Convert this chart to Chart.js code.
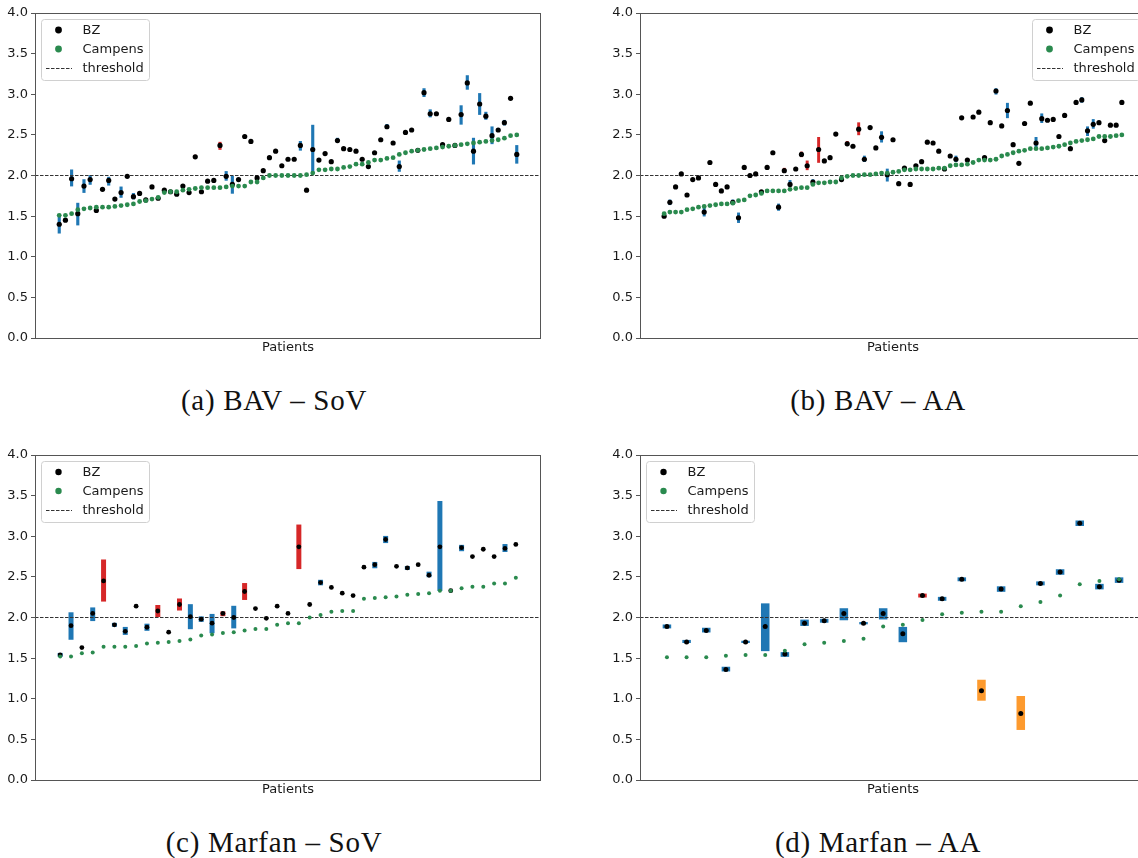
<!DOCTYPE html>
<html>
<head>
<meta charset="utf-8">
<script src="https://cdn.jsdelivr.net/npm/chart.js@4.4.1/dist/chart.umd.min.js"></script>
<style>
  html, body { margin: 0; padding: 0; background: #fff; }
  body { width: 1138px; height: 858px; overflow: hidden; position: relative; }
  canvas { position: absolute; }
  .caption { position: absolute; width: 400px; text-align: center; font-family: 'Liberation Serif', serif; font-size: 29px; letter-spacing: 0.7px; line-height: 30px; color: #111; }
</style>
</head>
<body>
<canvas id="bavSov" width="560" height="360" style="left:0;top:0"></canvas>
<canvas id="bavAa" width="560" height="360" style="left:605px;top:0"></canvas>
<canvas id="marfanSov" width="560" height="360" style="left:0;top:442px"></canvas>
<canvas id="marfanAa" width="560" height="360" style="left:605px;top:442px"></canvas>
<div class="caption" style="left:74px;top:385px">(a) BAV – SoV</div>
<div class="caption" style="left:678px;top:385px">(b) BAV – AA</div>
<div class="caption" style="left:74px;top:827px">(c) Marfan – SoV</div>
<div class="caption" style="left:678px;top:827px">(d) Marfan – AA</div>
<script>
// shared
const threshold = 2.0;
const yTicks = [0.0, 0.5, 1.0, 1.5, 2.0, 2.5, 3.0, 3.5, 4.0];
const legendLabels = ['BZ', 'Campens', 'threshold'];

// (a) BAV - SoV
const bavSovBZ = [1.40, 1.45, 1.96, 1.53, 1.87, 1.95, 1.57, 1.83, 1.94, 1.71,
  1.79, 1.99, 1.74, 1.78, 1.70, 1.86, 1.72, 1.82, 1.80, 1.77,
  1.87, 1.79, 2.23, 1.80, 1.93, 1.94, 2.37, 1.99, 1.89, 1.95,
  2.48, 2.42, 1.97, 2.06, 2.22, 2.30, 2.12, 2.20, 2.20, 2.37,
  1.82, 2.32, 2.19, 2.27, 2.17, 2.43, 2.33, 2.32, 2.30, 2.20,
  2.11, 2.28, 2.44, 2.60, 2.40, 2.11, 2.53, 2.56, 2.31, 3.02,
  2.76, 2.76, 2.38, 2.69, 2.37, 2.75, 3.14, 2.30, 2.88, 2.73,
  2.49, 2.56, 2.65, 2.95, 2.26];
const bavSovCampens = [1.51, 1.51, 1.53, 1.58, 1.59, 1.60, 1.61, 1.61, 1.61, 1.62,
  1.63, 1.64, 1.65, 1.68, 1.69, 1.71, 1.73, 1.79, 1.80, 1.80,
  1.82, 1.83, 1.84, 1.85, 1.85, 1.85, 1.85, 1.86, 1.87, 1.87,
  1.87, 1.92, 1.92, 1.97, 2.00, 2.00, 2.00, 2.00, 2.00, 2.00,
  2.01, 2.03, 2.07, 2.07, 2.08, 2.08, 2.10, 2.11, 2.14, 2.14,
  2.16, 2.19, 2.19, 2.21, 2.22, 2.26, 2.28, 2.30, 2.31, 2.32,
  2.33, 2.34, 2.35, 2.36, 2.37, 2.38, 2.39, 2.40, 2.41, 2.42,
  2.43, 2.44, 2.46, 2.49, 2.50];
// [patient, low, high, kind]
const bavSovErr = [[0, 1.29, 1.52, 'b'], [2, 1.87, 2.07, 'b'], [3, 1.39, 1.66, 'b'], [4, 1.79, 1.95, 'b'],
  [5, 1.89, 2.00, 'b'], [8, 1.88, 1.98, 'b'], [10, 1.73, 1.86, 'b'], [12, 1.71, 1.78, 'b'],
  [22, 2.21, 2.25, 'r'], [26, 2.32, 2.41, 'r'], [27, 1.94, 2.05, 'b'], [28, 1.78, 1.99, 'b'],
  [39, 2.31, 2.42, 'b'], [40, 1.80, 1.84, 'o'], [41, 2.03, 2.62, 'b'], [45, 2.41, 2.46, 'b'],
  [53, 2.58, 2.63, 'b'], [55, 2.05, 2.18, 'b'], [59, 2.97, 3.07, 'b'], [60, 2.72, 2.81, 'b'],
  [65, 2.63, 2.86, 'b'], [66, 3.06, 3.23, 'b'], [67, 2.14, 2.46, 'b'], [68, 2.75, 3.01, 'b'],
  [69, 2.69, 2.78, 'b'], [70, 2.39, 2.60, 'b'], [72, 2.62, 2.68, 'b'], [74, 2.15, 2.37, 'b']];

// (b) BAV - AA
const bavAaBZ = [1.50, 1.67, 1.86, 2.02, 1.76, 1.95, 1.97, 1.55, 2.16, 1.89,
  1.81, 1.86, 1.67, 1.48, 2.10, 2.00, 2.02, 1.80, 2.10, 2.28,
  1.61, 2.06, 1.89, 2.08, 2.26, 2.12, 1.92, 2.32, 2.18, 2.22,
  2.51, 1.95, 2.39, 2.36, 2.57, 2.20, 2.59, 2.34, 2.47, 2.01,
  2.44, 1.90, 2.09, 1.89, 2.12, 2.17, 2.41, 2.40, 2.30, 2.08,
  2.24, 2.20, 2.71, 2.19, 2.72, 2.78, 2.22, 2.65, 3.04, 2.61,
  2.80, 2.38, 2.15, 2.64, 2.89, 2.40, 2.70, 2.68, 2.69, 2.48,
  2.74, 2.33, 2.90, 2.93, 2.55, 2.63, 2.65, 2.43, 2.62, 2.62,
  2.90];
const bavAaCampens = [1.53, 1.55, 1.55, 1.55, 1.58, 1.59, 1.61, 1.62, 1.63, 1.64,
  1.65, 1.65, 1.66, 1.69, 1.70, 1.75, 1.76, 1.78, 1.81, 1.81,
  1.81, 1.81, 1.83, 1.84, 1.85, 1.85, 1.89, 1.91, 1.91, 1.92,
  1.92, 1.97, 1.99, 2.00, 2.00, 2.01, 2.01, 2.02, 2.03, 2.03,
  2.04, 2.05, 2.07, 2.07, 2.08, 2.08, 2.08, 2.08, 2.09, 2.09,
  2.12, 2.13, 2.13, 2.14, 2.16, 2.19, 2.19, 2.19, 2.20, 2.24,
  2.26, 2.28, 2.30, 2.31, 2.33, 2.33, 2.33, 2.34, 2.35, 2.36,
  2.38, 2.40, 2.42, 2.43, 2.44, 2.45, 2.48, 2.48, 2.48, 2.49,
  2.50];
const bavAaErr = [[1, 1.64, 1.70, 'b'], [7, 1.50, 1.60, 'b'], [12, 1.64, 1.70, 'b'], [13, 1.42, 1.54, 'b'],
  [20, 1.57, 1.65, 'b'], [21, 2.04, 2.09, 'r'], [22, 1.87, 1.94, 'b'], [24, 2.23, 2.29, 'r'],
  [25, 2.07, 2.18, 'r'], [26, 1.90, 1.95, 'b'], [27, 2.16, 2.47, 'r'], [32, 2.37, 2.42, 'r'],
  [34, 2.50, 2.65, 'r'], [35, 2.17, 2.24, 'b'], [38, 2.41, 2.54, 'b'], [39, 1.93, 2.08, 'b'],
  [43, 1.87, 1.91, 'o'], [51, 2.17, 2.24, 'b'], [58, 3.00, 3.07, 'b'], [60, 2.71, 2.89, 'b'],
  [65, 2.34, 2.47, 'b'], [66, 2.65, 2.76, 'b'], [73, 2.90, 2.96, 'b'], [74, 2.49, 2.60, 'b'],
  [75, 2.58, 2.69, 'b']];

// (c) Marfan - SoV
const marfanSovBZ = [1.54, 1.90, 1.63, 2.05, 2.45, 1.91, 1.83, 2.14, 1.88, 2.08,
  1.82, 2.16, 2.01, 1.98, 1.93, 2.05, 2.00, 2.32, 2.11, 1.99,
  2.14, 2.05, 2.87, 2.16, 2.43, 2.37, 2.30, 2.27, 2.62, 2.65,
  2.96, 2.63, 2.61, 2.65, 2.52, 2.87, 2.33, 2.86, 2.75, 2.84,
  2.75, 2.85, 2.90];
const marfanSovCampens = [1.52, 1.52, 1.56, 1.57, 1.64, 1.64, 1.64, 1.65, 1.68, 1.69,
  1.70, 1.71, 1.73, 1.78, 1.79, 1.81, 1.82, 1.84, 1.86, 1.86,
  1.91, 1.93, 1.93, 2.00, 2.03, 2.07, 2.08, 2.08, 2.23, 2.24,
  2.25, 2.26, 2.28, 2.29, 2.30, 2.33, 2.33, 2.36, 2.38, 2.38,
  2.42, 2.42, 2.49];
const marfanSovErr = [[0, 1.52, 1.56, 'b'], [1, 1.73, 2.06, 'b'], [3, 1.96, 2.12, 'b'], [4, 2.20, 2.71, 'r'],
  [5, 1.89, 1.93, 'b'], [6, 1.79, 1.88, 'b'], [8, 1.84, 1.92, 'b'], [9, 2.01, 2.15, 'r'],
  [11, 2.09, 2.23, 'r'], [12, 1.86, 2.16, 'b'], [13, 1.95, 2.01, 'b'], [14, 1.81, 2.04, 'b'],
  [15, 2.02, 2.07, 'r'], [16, 1.87, 2.14, 'b'], [17, 2.22, 2.42, 'r'], [22, 2.60, 3.14, 'r'],
  [24, 2.40, 2.46, 'b'], [29, 2.61, 2.68, 'b'], [30, 2.92, 3.00, 'b'], [32, 2.59, 2.63, 'b'],
  [34, 2.50, 2.56, 'b'], [35, 2.33, 3.43, 'b'], [37, 2.82, 2.89, 'b'], [41, 2.81, 2.90, 'b']];

// (d) Marfan - AA
const marfanAaBZ = [1.89, 1.70, 1.84, 1.36, 1.70, 1.89, 1.55, 1.93, 1.96, 2.05,
  1.93, 2.05, 1.80, 2.27, 2.23, 2.47, 1.10, 2.35, 0.82, 2.42,
  2.56, 3.16, 2.38, 2.46];
const marfanAaCampens = [1.51, 1.51, 1.51, 1.53, 1.54, 1.54, 1.59, 1.67, 1.69, 1.71,
  1.74, 1.89, 1.91, 1.97, 2.04, 2.06, 2.07, 2.07, 2.14, 2.19,
  2.27, 2.41, 2.45, 2.47];
const marfanAaErr = [[0, 1.87, 1.91, 'b'], [1, 1.69, 1.72, 'b'], [2, 1.82, 1.87, 'b'], [3, 1.34, 1.39, 'b'],
  [4, 1.69, 1.71, 'b'], [5, 1.59, 2.17, 'b'], [6, 1.52, 1.57, 'b'], [7, 1.90, 1.97, 'b'],
  [8, 1.94, 1.98, 'b'], [9, 1.97, 2.11, 'b'], [10, 1.92, 1.94, 'b'], [11, 1.98, 2.11, 'b'],
  [12, 1.70, 1.88, 'b'], [13, 2.25, 2.29, 'r'], [14, 2.21, 2.25, 'b'], [15, 2.45, 2.49, 'b'],
  [16, 0.98, 1.23, 'o'], [17, 2.32, 2.38, 'b'], [18, 0.62, 1.03, 'o'], [19, 2.40, 2.44, 'b'],
  [20, 2.53, 2.59, 'b'], [21, 3.13, 3.19, 'b'], [22, 2.35, 2.41, 'b'], [23, 2.43, 2.49, 'b']];

const kindColor = { b: '#1f77b4', r: '#d62728', o: '#fd9a2e' };
const green = '#2a8a4e';
const textColor = '#1a1a1a';
const spineColor = '#555';
const barWidth = 0.4;   // in patient units, like the bars in the original
const plotWidth = 506;

// frame around the axes + legend drawn inside the plot area
const frameLegend = {
  id: 'frameLegend',
  afterDraw(chart, args, opts) {
    const a = chart.chartArea;
    const ctx = chart.ctx;
    ctx.save();
    ctx.strokeStyle = spineColor;
    ctx.lineWidth = 1;
    ctx.strokeRect(a.left + 0.5, a.top + 0.5, a.right - a.left - 1, a.bottom - a.top);

    const w = 108, h = 61;
    const x0 = opts.side === 'right' ? a.right - 6 - w : a.left + 6;
    const y0 = a.top + 6;
    ctx.beginPath();
    ctx.roundRect(x0 + 0.5, y0 + 0.5, w, h, 3);
    ctx.fillStyle = 'rgba(255,255,255,0.85)';
    ctx.fill();
    ctx.strokeStyle = '#d0d0d0';
    ctx.stroke();

    ctx.font = '13px "DejaVu Sans"';
    ctx.textBaseline = 'middle';
    legendLabels.forEach((lab, k) => {
      const ry = y0 + 11 + 19 * k;
      if (k < 2) {
        ctx.beginPath();
        ctx.arc(x0 + 17.5, ry, opts.markR, 0, Math.PI * 2);
        ctx.fillStyle = k === 0 ? '#000' : green;
        ctx.fill();
      } else {
        ctx.beginPath();
        ctx.setLineDash([3.5, 1.5]);
        ctx.strokeStyle = '#333';
        ctx.moveTo(x0 + 5, ry + 0.5);
        ctx.lineTo(x0 + 31, ry + 0.5);
        ctx.stroke();
        ctx.setLineDash([]);
      }
      ctx.fillStyle = textColor;
      ctx.fillText(lab, x0 + 41.5, ry + 1);
    });
    ctx.restore();
  }
};

function buildPanel(id, bz, campens, errs, look) {
  const n = bz.length;
  const pad = 0.05 * (n - 1 + barWidth);
  const xMin = -barWidth / 2 - pad;
  const xMax = n - 1 + barWidth / 2 + pad;
  const barPx = barWidth * plotWidth / (xMax - xMin);

  return new Chart(document.getElementById(id), {
    type: 'scatter',
    data: {
      datasets: [{
        type: 'scatter',
        label: 'Campens',
        data: campens.map((v, i) => ({ x: i, y: v })),
        pointBackgroundColor: green,
        pointBorderWidth: 0,
        pointRadius: look.greenR,
        order: 0
      }, {
        type: 'scatter',
        label: 'BZ',
        data: bz.map((v, i) => ({ x: i, y: v })),
        pointBackgroundColor: '#000',
        pointBorderWidth: 0,
        pointRadius: look.blackR,
        order: 1
      }, {
        type: 'line',
        label: 'threshold',
        data: [{ x: xMin, y: threshold }, { x: xMax, y: threshold }],
        borderColor: '#333',
        borderWidth: 1,
        borderDash: [3.5, 1.5],
        pointRadius: 0,
        order: 2
      }, {
        type: 'bar',
        label: 'range',
        data: errs.map(e => ({ x: e[0], y: [e[1], e[2]] })),
        backgroundColor: c => kindColor[errs[c.dataIndex][3]],
        borderWidth: 0,
        barThickness: barPx,
        order: 3
      }]
    },
    options: {
      responsive: false,
      animation: false,
      layout: { padding: { top: 13, right: 19, left: 0, bottom: 0 } },
      scales: {
        x: {
          type: 'linear',
          min: xMin,
          max: xMax,
          offset: false,
          ticks: { display: false },
          grid: { display: false, offset: false },
          border: { display: false },
          title: {
            display: true,
            text: 'Patients',
            color: textColor,
            font: { family: 'DejaVu Sans', size: 13 },
            padding: { top: 0, bottom: 5 }
          },
          afterFit: s => { s.height = 22; }
        },
        y: {
          min: 0,
          max: 4,
          afterBuildTicks: s => { s.ticks = yTicks.map(v => ({ value: v })); },
          ticks: {
            callback: v => v.toFixed(1),
            color: textColor,
            font: { family: 'DejaVu Sans', size: 13 },
            padding: 3
          },
          grid: { drawOnChartArea: false, drawTicks: true, tickLength: 4, color: spineColor },
          border: { display: false },
          afterFit: s => { s.width = 35; }
        }
      },
      plugins: {
        legend: { display: false },
        tooltip: { enabled: false },
        frameLegend: { side: look.legendSide, markR: look.markR }
      }
    },
    plugins: [frameLegend]
  });
}

buildPanel('bavSov', bavSovBZ, bavSovCampens, bavSovErr, { blackR: 2.6, greenR: 2.4, markR: 3.4, legendSide: 'left' });
buildPanel('bavAa', bavAaBZ, bavAaCampens, bavAaErr, { blackR: 2.6, greenR: 2.4, markR: 3.4, legendSide: 'right' });
buildPanel('marfanSov', marfanSovBZ, marfanSovCampens, marfanSovErr, { blackR: 2.4, greenR: 2.0, markR: 3.2, legendSide: 'left' });
buildPanel('marfanAa', marfanAaBZ, marfanAaCampens, marfanAaErr, { blackR: 2.5, greenR: 2.0, markR: 3.2, legendSide: 'left' });
</script>
</body>
</html>
